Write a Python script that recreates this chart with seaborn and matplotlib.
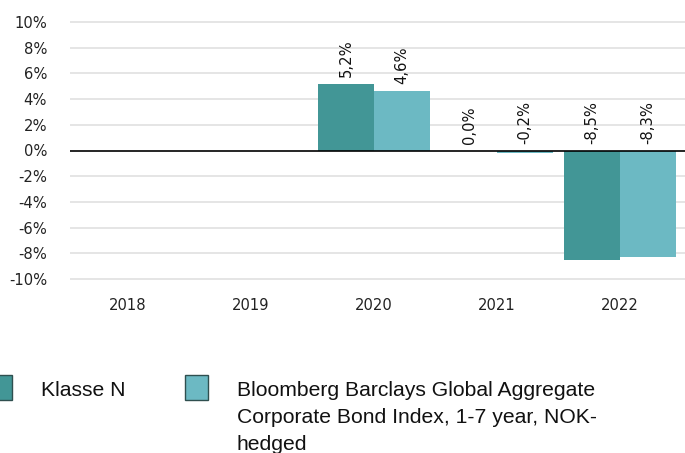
import matplotlib
matplotlib.use("Agg")
import matplotlib.pyplot as plt
import seaborn as sns
import pandas as pd
import numpy as np
from matplotlib.patches import Rectangle

years = ["2018", "2019", "2020", "2021", "2022"]
klasse_n = [np.nan, np.nan, 5.2, 0.0, -8.5]
benchmark = [np.nan, np.nan, 4.6, -0.2, -8.3]
series_names = ["Klasse N", "Bloomberg Barclays Global Aggregate Corporate Bond Index, 1-7 year, NOK-hedged"]
legend_lines = [["Klasse N"], ["Bloomberg Barclays Global Aggregate", "Corporate Bond Index, 1-7 year, NOK-", "hedged"]]
y_ticks = [-10, -8, -6, -4, -2, 0, 2, 4, 6, 8, 10]
colors = ["#429696", "#6cb9c3"]

df = pd.DataFrame({
    "year": years * 2,
    "value": klasse_n + benchmark,
    "series": [series_names[0]] * len(years) + [series_names[1]] * len(years),
})

sns.set_style("white")
plt.rcParams["font.family"] = ["DejaVu Sans"]

W, H = 685, 453
fig = plt.figure(figsize=(W / 100, H / 100), dpi=100)
ax_top, ax_bot = 19.4, 281.6
ax = fig.add_axes([70 / W, 1 - ax_bot / H, (685 - 70) / W, (ax_bot - ax_top) / H])

sns.barplot(data=df, x="year", y="value", hue="series", order=years,
            hue_order=series_names, palette=colors, width=0.91, ax=ax,
            legend=False, saturation=1, linewidth=0)

ax.set_ylim(-10.2, 10.2)
ax.set_xlim(-0.4715, 4.5285)
ax.set_yticks(y_ticks)
ax.set_yticklabels([f"{t}%" for t in y_ticks], fontsize=10.6, color="#222222")
ax.tick_params(axis="y", length=0, pad=16.5)
ax.tick_params(axis="x", length=0, pad=11.5, labelsize=10.6, labelcolor="#222222")
ax.set_xlabel("")
ax.set_ylabel("")
for s in ax.spines.values():
    s.set_visible(False)
for t in y_ticks:
    if t == 0:
        ax.axhline(0, color="black", linewidth=1.2, zorder=3)
    else:
        ax.axhline(t, color="#e3e3e3", linewidth=1.3, zorder=0)

for cont in ax.containers:
    for bar, val in zip(cont.patches, cont.datavalues):
        if np.isnan(val):
            continue
        xc = bar.get_x() + bar.get_width() / 2
        ybase = val if val > 0 else 0
        ax.annotate(f"{val:.1f}%".replace(".", ","), (xc, ybase),
                    xytext=(0, 5), textcoords="offset points",
                    rotation=90, ha="center", va="bottom", fontsize=10.6,
                    color="#111111")

# legend
lfont = dict(family="Liberation Sans", fontsize=15.2, color="#111111")
patch_x = [-11, 185]
text_x = [41, 237]
for i in range(2):
    fig.patches.append(Rectangle((patch_x[i] / W, 1 - 400 / H), 23 / W, 25 / H,
                                 transform=fig.transFigure, facecolor=colors[i],
                                 edgecolor="#2f4f4f", linewidth=1))
    for j, line in enumerate(legend_lines[i]):
        fig.text(text_x[i] / W, 1 - (396.5 + 26.5 * j) / H, line, va="baseline", ha="left", **lfont)

fig.savefig("out.png", dpi=100)
